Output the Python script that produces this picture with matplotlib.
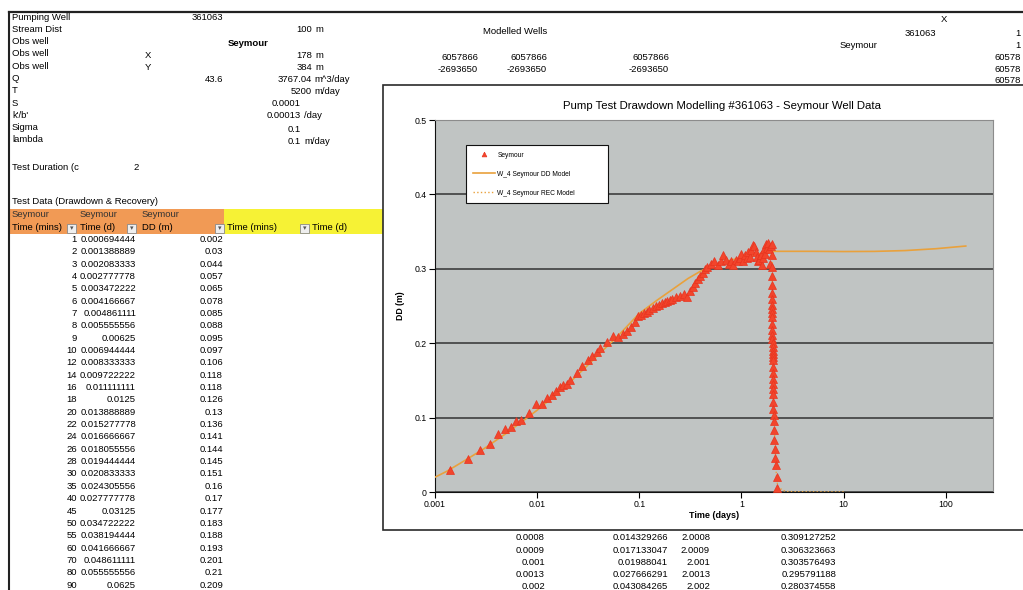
import matplotlib.pyplot as plt
from matplotlib.patches import Rectangle
from matplotlib.ticker import NullLocator

plt.rcParams['font.family'] = ['Liberation Sans', 'DejaVu Sans']

# --- pumping test parameters ---
param_labels = ['Pumping Well', 'Stream Dist', 'Obs well', 'Obs well', 'Obs well',
                'Q', 'T', 'S', "k'/b'", 'Sigma', 'lambda']

# --- observed drawdown, Seymour obs well (time in minutes since pump start) ---
dd_mins = [1, 2, 3, 4, 5, 6, 7, 8, 9, 10, 12, 14, 16, 18, 20, 22, 24, 26, 28, 30,
           35, 40, 45, 50, 55, 60, 70, 80, 90,
           100, 110, 120, 130, 140, 150, 160, 170, 180, 195, 210, 225, 240, 255,
           270, 285, 300, 330, 360, 390, 420, 450, 480, 510, 540, 570, 600, 630,
           660, 720, 780, 840, 900, 960, 1020, 1080, 1140, 1200, 1260, 1320, 1380,
           1440, 1500, 1560, 1620, 1680, 1740, 1800, 1860, 1920, 1980, 2040, 2100,
           2160, 2220, 2280, 2340, 2400, 2460, 2520, 2580, 2640, 2700, 2760, 2820,
           2880]
dd_obs = [0.002, 0.03, 0.044, 0.057, 0.065, 0.078, 0.085, 0.088, 0.095, 0.097,
          0.106, 0.118, 0.118, 0.126, 0.13, 0.136, 0.141, 0.144, 0.145, 0.151,
          0.16, 0.17, 0.177, 0.183, 0.188, 0.193, 0.201, 0.21, 0.209,
          0.212, 0.216, 0.222, 0.229, 0.236, 0.238, 0.24, 0.242, 0.245, 0.247,
          0.25, 0.252, 0.254, 0.256, 0.257, 0.258, 0.26, 0.262, 0.264, 0.266,
          0.262, 0.27, 0.276, 0.281, 0.286, 0.29, 0.295, 0.3, 0.303, 0.306,
          0.31, 0.305, 0.31, 0.318, 0.312, 0.306, 0.31, 0.305, 0.312, 0.31,
          0.315, 0.32, 0.31, 0.318, 0.314, 0.322, 0.316, 0.325, 0.332, 0.33,
          0.322, 0.316, 0.31, 0.312, 0.318, 0.305, 0.315, 0.326, 0.32, 0.334,
          0.328, 0.335, 0.326, 0.306, 0.33, 0.333]

# recovery readings (minutes after pump stop) and residual drawdown
rec_mins = [1, 2, 3, 4, 5, 6, 7, 8, 9, 10, 12, 14, 16, 18, 20, 22, 24, 26, 28, 30,
            35, 40, 45, 50, 55, 60, 70, 80, 90, 100, 120, 150, 180, 210, 240, 300,
            360]
rec_obs = [0.318, 0.302, 0.29, 0.278, 0.268, 0.259, 0.252, 0.246, 0.24, 0.235,
           0.226, 0.218, 0.211, 0.205, 0.2, 0.195, 0.19, 0.186, 0.182, 0.178,
           0.168, 0.16, 0.152, 0.145, 0.138, 0.132, 0.121, 0.112, 0.104, 0.096,
           0.084, 0.07, 0.058, 0.046, 0.036, 0.02, 0.005]
pump_minutes = 2880

# --- W_4 model curves (time in days) ---
model_t = [0.0008, 0.0009, 0.001, 0.0013, 0.002, 0.003, 0.005, 0.0075, 0.01, 0.015,
           0.02, 0.03, 0.04, 0.06, 0.1, 0.15, 0.2, 0.3, 0.4, 0.5, 0.7, 1, 1.5, 2,
           5, 10, 20, 40, 80, 157]
model_dd = [0.0143, 0.0171, 0.0199, 0.0277, 0.0431, 0.058, 0.079, 0.097, 0.11,
            0.13, 0.145, 0.168, 0.185, 0.208, 0.24, 0.258, 0.27, 0.287, 0.297,
            0.303, 0.31, 0.315, 0.32, 0.3235, 0.3235, 0.3232, 0.3234, 0.3245,
            0.327, 0.3306]
rec_model_t = [2.0008, 2.0009, 2.001, 2.0013, 2.002, 2.005, 2.01, 2.02, 2.05, 2.1,
               2.2, 2.27, 2.5, 2.7, 3, 5, 10]
rec_model_dd = [0.309127252, 0.306323663, 0.303576493, 0.295791188, 0.280374558,
                0.245, 0.212, 0.178, 0.128, 0.085, 0.02, 0.007, 0.003, 0.0008,
                0.0005, 0.0002, 0.0001]

# model recovery table rows printed under the chart
tab_tp = ['0.0008', '0.0009', '0.001', '0.0013', '0.002']
tab_s = ['0.014329266', '0.017133047', '0.01988041', '0.027666291', '0.043084265']
tab_t = ['2.0008', '2.0009', '2.001', '2.0013', '2.002']
tab_res = ['0.309127252', '0.306323663', '0.303576493', '0.295791188', '0.280374558']

x_ticks = [0.001, 0.01, 0.1, 1, 10, 100]
y_ticks = [0, 0.1, 0.2, 0.3, 0.4, 0.5]

W, H = 1023, 590
fig = plt.figure(figsize=(W / 100, H / 100), dpi=100)
fig.patch.set_facecolor('white')

FS = 6.8


def put(x, y, s, ha='left', size=FS, **kw):
    fig.text(x / W, 1 - y / H, s, ha=ha, va='center', fontsize=size, **kw)


def box(x0, y0, x1, y1, z=1, **kw):
    fig.patches.append(Rectangle((x0 / W, 1 - y1 / H), (x1 - x0) / W, (y1 - y0) / H,
                                 transform=fig.transFigure, zorder=z, **kw))


# sheet borders
fig.add_artist(plt.Line2D([9 / W, 1], [1 - 12 / H] * 2, color='#222222', lw=1.6,
                          transform=fig.transFigure))
fig.add_artist(plt.Line2D([9 / W] * 2, [1 - 12 / H, 0], color='#222222', lw=1.5,
                          transform=fig.transFigure))

# parameter block
for i, lab in enumerate(param_labels):
    put(12, 17 + 12.3 * i, lab)
put(223, 17, '361063', ha='right')
put(312, 30, '100', ha='right'); put(315, 30, 'm')
put(228, 43, 'Seymour', weight='bold')
put(145, 55, 'X'); put(312, 55, '178', ha='right'); put(315, 55, 'm')
put(145, 67, 'Y'); put(312, 67, '384', ha='right'); put(315, 67, 'm')
put(223, 79, '43.6', ha='right'); put(312, 79, '3767.04', ha='right'); put(314, 79, 'm^3/day')
put(312, 92, '5200', ha='right'); put(314, 92, 'm/day')
put(301, 104, '0.0001', ha='right')
put(301, 116, '0.00013', ha='right'); put(304, 116, '/day')
put(301, 129, '0.1', ha='right')
put(301, 141, '0.1', ha='right'); put(304, 141, 'm/day')
put(12, 167, 'Test Duration (c'); put(133, 167, '2')

# modelled wells block
put(515, 31, 'Modelled Wells', ha='center')
for xr in (478, 547, 669):
    put(xr, 57, '6057866', ha='right')
    put(xr, 69, '-2693650', ha='right')
put(944, 20, 'X', ha='center')
put(936, 33, '361063', ha='right')
put(877, 45, 'Seymour', ha='right')
put(1021, 33, '1', ha='right'); put(1021, 45, '1', ha='right')
for yy in (57, 69, 81):
    put(1021, yy, '60578', ha='right')

# test data table header
put(12, 202, 'Test Data (Drawdown & Recovery)')
box(10, 209, 224, 234, facecolor='#f19a55', edgecolor='none')
box(224, 209, 390, 234, facecolor='#f6f235', edgecolor='none')
put(12, 215, 'Seymour', color='#333333'); put(80, 215, 'Seymour', color='#333333')
put(142, 215, 'Seymour', color='#333333')
put(12, 228, 'Time (mins)'); put(80, 228, 'Time (d)'); put(142, 228, 'DD (m)')
put(227, 228, 'Time (mins)'); put(312, 228, 'Time (d)')
for xb in (67, 127, 215, 300):
    box(xb, 224, xb + 9, 233, z=2, facecolor='#eeeeee', edgecolor='#8a8a8a', lw=0.6)
    put(xb + 4.5, 228.5, '\u25be', ha='center', size=5, color='#555555',
        family='DejaVu Sans')

for i, (m, v) in enumerate(zip(dd_mins[:29], dd_obs[:29])):
    y = 239.3 + 12.35 * i
    put(77, y, str(m), ha='right')
    put(136, y, f'{m / 1440:.9f}'.rstrip('0'), ha='right')
    put(223, y, f'{v:g}', ha='right')

# model recovery rows under the chart
for i in range(5):
    y = 538 + 12.2 * i
    put(545, y, tab_tp[i], ha='right')
    put(668, y, tab_s[i], ha='right')
    put(710, y, tab_t[i], ha='right')
    put(836, y, tab_res[i], ha='right')

# chart area
box(383, 85, 1040, 530, z=1.5, facecolor='white', edgecolor='#2a2a2a', lw=1.2)
put(722, 106, 'Pump Test Drawdown Modelling #361063 - Seymour Well Data', ha='center',
    size=8.2)

ax = fig.add_axes([435 / W, 1 - 492 / H, 558 / W, 372 / H], zorder=2)
ax.set_facecolor('#c0c4c3')

rec_days = [(pump_minutes + m) / 1440 for m in rec_mins]
obs_days = [m / 1440 for m in dd_mins] + rec_days
obs_dd = dd_obs + rec_obs

h_dd, = ax.plot(model_t, model_dd, color='#e9a13c', lw=1.2, zorder=3)
h_rec, = ax.plot(rec_model_t, rec_model_dd, color='#e9a13c', lw=1.0, ls=':', zorder=3)
h_obs, = ax.plot(obs_days, obs_dd, ls='none', marker='^', ms=6.2, color='#f2452c',
                 mec='#e8341f', mew=0.5, zorder=4)

ax.set_xscale('log')
ax.set_xlim(0.001, 290)
ax.set_ylim(0, 0.5)
ax.set_xticks(x_ticks, [f'{t:g}' for t in x_ticks])
ax.xaxis.set_minor_locator(NullLocator())
ax.set_yticks(y_ticks, [f'{t:g}' for t in y_ticks])
ax.yaxis.grid(True, color='#333333', lw=1.1)
ax.set_axisbelow(True)
ax.tick_params(direction='out', length=4, width=0.8, labelsize=6.3, pad=2)
for side in ('left', 'bottom'):
    ax.spines[side].set_color('#111111')
for side in ('top', 'right'):
    ax.spines[side].set_color('#8c8c8c')

ax.set_xlabel('Time (days)', fontsize=6.5, fontweight='bold', labelpad=1)
ax.set_ylabel('DD (m)', fontsize=6.3, fontweight='bold', labelpad=7)

leg = ax.legend([h_obs, h_dd, h_rec],
                ['Seymour', 'W_4 Seymour DD Model', 'W_4 Seymour REC Model'],
                loc='upper left', bbox_to_anchor=(0.0556, 0.7742, 0.2545, 0.1586),
                mode='expand', borderaxespad=0, fontsize=4.8, borderpad=1.0,
                labelspacing=1.8, handlelength=3.3, handletextpad=0.4,
                markerscale=0.55, fancybox=False, framealpha=1)
leg.get_frame().set_edgecolor('#111111')
leg.get_frame().set_linewidth(0.8)

fig.savefig('out.png', dpi=100)
